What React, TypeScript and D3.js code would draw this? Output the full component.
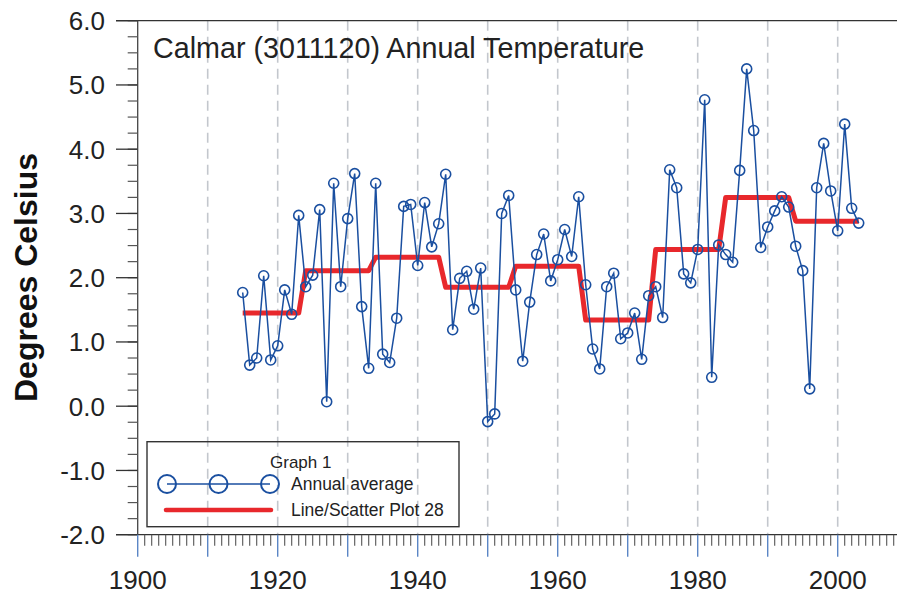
import React from "react";
import * as d3 from "d3";

// annual means, 1915..2003
const firstYear = 1915;
const annualTemps = [
  1.77, 0.64, 0.75, 2.03, 0.72, 0.94, 1.81, 1.43, 2.97, 1.86,
  2.04, 3.06, 0.07, 3.47, 1.86, 2.92, 3.62, 1.55, 0.59, 3.47,
  0.81, 0.68, 1.37, 3.11, 3.14, 2.19, 3.17, 2.48, 2.84, 3.61,
  1.19, 1.99, 2.1, 1.51, 2.15, -0.24, -0.12, 3.0, 3.28, 1.81,
  0.7, 1.62, 2.36, 2.68, 1.95, 2.28, 2.75, 2.33, 3.26, 1.89,
  0.89, 0.58, 1.86, 2.07, 1.05, 1.14, 1.45, 0.73, 1.72, 1.86,
  1.38, 3.68, 3.4, 2.06, 1.92, 2.44, 4.77, 0.45, 2.51, 2.36,
  2.24, 3.67, 5.25, 4.29, 2.47, 2.79, 3.04, 3.26, 3.1, 2.49,
  2.11, 0.27, 3.4, 4.09, 3.35, 2.73, 4.39, 3.08, 2.85,
];

// decade-ish means (red step line)
const periodStart = [1915, 1924, 1934, 1944, 1954, 1964, 1974, 1984, 1994];
const periodEnd = [1923, 1933, 1943, 1953, 1963, 1973, 1983, 1993, 2003];
const periodMean = [1.45, 2.11, 2.32, 1.85, 2.18, 1.34, 2.44, 3.25, 2.88];

const yTickLabels = ["-2.0", "-1.0", "0.0", "1.0", "2.0", "3.0", "4.0", "5.0", "6.0"];
const xLabelYears = [1900, 1920, 1940, 1960, 1980, 2000];

const W = 897;
const H = 594;
const font = "'Liberation Sans', Arial, sans-serif";
const blue = "#1a4fa0";
const red = "#e8282c";

export default function App() {
  const x = d3.scaleLinear().domain([1900, 2010]).range([137.7, 907.7]);
  const y = d3.scaleLinear().domain([-2, 6]).range([534.7, 20.7]);

  const pts: [number, number][] = annualTemps.map((v, i) => [firstYear + i, v]);
  const line = d3
    .line<[number, number]>()
    .x((d) => x(d[0]))
    .y((d) => y(d[1]));

  const steps: [number, number][] = [];
  periodStart.forEach((s, i) => {
    steps.push([s, periodMean[i]]);
    steps.push([periodEnd[i], periodMean[i]]);
  });

  const x0 = x(1900);
  const yBottom = y(-2);
  const yTop = y(6);
  const yearTicks = d3.range(1900, 2011);
  const decades = d3.range(1900, 2011, 10);
  const yMinor = d3.range(-2, 6.01, 0.25);
  const yMajor = d3.range(-2, 6.01, 1);

  return (
    <svg
      width={W}
      height={H}
      style={{ position: "absolute", left: 0, top: 0, background: "#fff" }}
      fontFamily={font}
    >
      {/* dashed decade grid */}
      {decades
        .filter((d) => d > 1900)
        .map((d) => (
          <line
            key={"g" + d}
            x1={x(d)}
            x2={x(d)}
            y1={yTop}
            y2={yBottom}
            stroke="#c3c7cd"
            strokeWidth={1.6}
            strokeDasharray="10,6"
          />
        ))}

      {/* frame */}
      <line x1={116} x2={W} y1={yTop} y2={yTop} stroke="#333" strokeWidth={1.3} />
      <line x1={116} x2={W} y1={yBottom} y2={yBottom} stroke="#333" strokeWidth={1.3} />
      <line x1={x0} x2={x0} y1={yTop} y2={yBottom} stroke="#444" strokeWidth={1.3} />

      {/* y ticks */}
      {yMinor.map((v) => (
        <line key={"ym" + v} x1={x0 - 10} x2={x0} y1={y(v)} y2={y(v)} stroke="#555" strokeWidth={1.2} />
      ))}
      {yMajor.map((v, i) => (
        <g key={"yM" + v}>
          <line x1={116} x2={x0} y1={y(v)} y2={y(v)} stroke="#333" strokeWidth={1.3} />
          <text x={105} y={y(v)} dy="0.36em" textAnchor="end" fontSize={26} fill="#222">
            {yTickLabels[i]}
          </text>
        </g>
      ))}

      {/* x ticks */}
      {yearTicks.map((t) =>
        t % 10 === 0 ? null : (
          <line key={"xm" + t} x1={x(t)} x2={x(t)} y1={yBottom} y2={yBottom + 11} stroke="#555" strokeWidth={1.1} />
        )
      )}
      {decades.map((t) => (
        <line key={"xM" + t} x1={x(t)} x2={x(t)} y1={yBottom} y2={yBottom + 22} stroke="#5b86c5" strokeWidth={1.4} />
      ))}
      {xLabelYears.map((t) => (
        <text key={"xl" + t} x={x(t)} y={589} textAnchor="middle" fontSize={26} fill="#222">
          {t}
        </text>
      ))}

      {/* y label */}
      <text
        transform={`translate(37,${(152 + 403) / 2}) rotate(-90)`}
        textAnchor="middle"
        fontSize={32}
        fontWeight="bold"
        fill="#111"
      >
        Degrees Celsius
      </text>

      {/* title */}
      <text x={153} y={58} fontSize={28.7} fill="#222">
        Calmar (3011120) Annual Temperature
      </text>

      {/* step means */}
      <path d={line(steps) || ""} fill="none" stroke={red} strokeWidth={5} strokeLinejoin="round" />

      {/* annual series */}
      <path d={line(pts) || ""} fill="none" stroke={blue} strokeWidth={1.5} />
      {pts.map((d) => (
        <circle key={"c" + d[0]} cx={x(d[0])} cy={y(d[1])} r={5} fill="none" stroke={blue} strokeWidth={1.6} />
      ))}

      {/* legend */}
      <g>
        <rect x={147} y={441.7} width={312} height={85} fill="none" stroke="#333" strokeWidth={1.4} />
        <text x={270} y={468} fontSize={17} fill="#222">Graph 1</text>
        <line x1={167} x2={270} y1={484} y2={484} stroke={blue} strokeWidth={1.5} />
        {[167, 218.5, 270].map((cx) => (
          <circle key={"lc" + cx} cx={cx} cy={484} r={9} fill="none" stroke={blue} strokeWidth={2} />
        ))}
        <text x={291} y={490} fontSize={17.5} fill="#222">Annual average</text>
        <line x1={166} x2={271} y1={510} y2={510} stroke={red} strokeWidth={4.5} strokeLinecap="round" />
        <text x={291} y={516} fontSize={17.5} fill="#222">Line/Scatter Plot 28</text>
      </g>
    </svg>
  );
}
